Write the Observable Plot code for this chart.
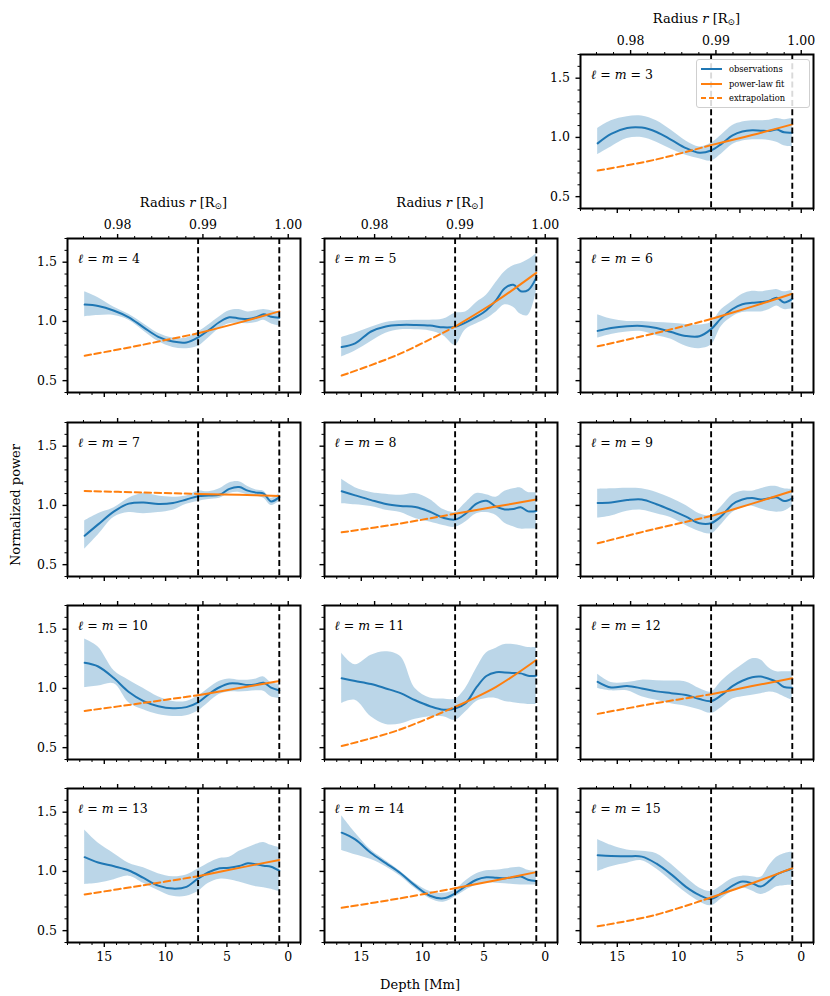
<!DOCTYPE html>
<html><head><meta charset="utf-8">
<script src="https://cdn.jsdelivr.net/npm/d3@7"></script>
<script src="https://cdn.jsdelivr.net/npm/@observablehq/plot@0.6"></script>
<style>
body{margin:0;background:#fff;}
#fig{position:relative;width:830px;height:996px;background:#fff;font-family:"DejaVu Serif",serif;color:#000;overflow:hidden;}
.abs{position:absolute;white-space:nowrap;line-height:1;}
.panel{position:absolute;}
.legend{position:absolute;border:1px solid #cfcfcf;border-radius:3px;background:rgba(255,255,255,0.85);font-size:8.3px;}
.legend .row{position:absolute;left:4px;height:12px;display:flex;align-items:center;white-space:nowrap;}
.legend svg{margin-right:7px;}
</style></head><body><div id="fig"></div>
<script>
// ---------- data ----------
const RSUN = 695.7; // Mm
const DEPTH = [16.6, 15.5, 14.2, 13, 11.8, 10.6, 9.4, 8.3, 7.35, 6.5, 5.6, 4.8, 4.0, 3.3, 2.6, 2.0, 1.4, 0.73];
const FIT_DEPTH = [7.35, 4, 0.73];
const EXT_DEPTH = [16.6, 12, 7.35];
const BOUNDARIES = [7.35, 0.73];
const X_MAJOR = [15, 10, 5, 0];
const X_MINOR = [18, 17, 16, 14, 13, 12, 11, 9, 8, 7, 6, 4, 3, 2, 1, -1];
const R_MAJOR = [0.98, 0.99, 1.00];
const R_MINOR = [0.976, 0.978, 0.982, 0.984, 0.986, 0.988, 0.992, 0.994, 0.996, 0.998];
const Y_MAJOR = [0.5, 1.0, 1.5];
const Y_MINOR = [0.4, 0.6, 0.7, 0.8, 0.9, 1.1, 1.2, 1.3, 1.4, 1.6, 1.7];
const DEGREES = [3, 4, 5, 6, 7, 8, 9, 10, 11, 12, 13, 14, 15];
const LEGEND_LABELS = ["observations", "power-law fit", "extrapolation"];

const obs3 = [0.95, 1.03, 1.08, 1.083, 1.046, 0.98, 0.91, 0.87, 0.89, 0.946, 1.017, 1.05, 1.06, 1.057, 1.054, 1.066, 1.043, 1.04];
const hi3  = [1.075, 1.14, 1.175, 1.18, 1.14, 1.06, 0.97, 0.92, 0.95, 1.02, 1.10, 1.13, 1.14, 1.14, 1.145, 1.16, 1.15, 1.16];
const lo3  = [0.855, 0.92, 0.99, 1.0, 0.96, 0.90, 0.85, 0.82, 0.80, 0.86, 0.94, 0.97, 0.98, 0.98, 0.975, 0.96, 0.93, 0.92];
const fit3 = [0.935, 1.02, 1.11];  const ext3 = [0.72, 0.81, 0.935];

const obs4 = [1.142, 1.13, 1.09, 1.035, 0.95, 0.87, 0.83, 0.823, 0.865, 0.925, 0.995, 1.035, 1.025, 1.02, 1.035, 1.06, 1.04, 1.03];
const hi4  = [1.25, 1.2, 1.12, 1.06, 0.98, 0.9, 0.86, 0.86, 0.91, 0.97, 1.04, 1.09, 1.1, 1.08, 1.09, 1.1, 1.09, 1.08];
const lo4  = [1.04, 1.05, 1.05, 1.01, 0.92, 0.83, 0.78, 0.77, 0.79, 0.86, 0.94, 0.98, 0.985, 0.98, 0.99, 1.01, 0.98, 0.96];
const fit4 = [0.90, 0.99, 1.085];  const ext4 = [0.71, 0.80, 0.90];

const obs5 = [0.784, 0.815, 0.915, 0.958, 0.97, 0.97, 0.965, 0.95, 0.955, 0.99, 1.04, 1.095, 1.18, 1.28, 1.31, 1.255, 1.264, 1.37];
const hi5  = [0.864, 0.9, 0.95, 0.99, 1.005, 1.01, 1.01, 1.02, 1.07, 1.08, 1.16, 1.22, 1.33, 1.42, 1.47, 1.49, 1.52, 1.57];
const lo5  = [0.70, 0.75, 0.83, 0.9, 0.93, 0.93, 0.92, 0.88, 0.80, 0.93, 0.98, 1.02, 1.08, 1.14, 1.12, 1.06, 1.05, 1.25];
const fit5 = [0.957, 1.17, 1.41];  const ext5 = [0.543, 0.72, 0.957];

const obs6 = [0.92, 0.945, 0.96, 0.962, 0.945, 0.91, 0.877, 0.875, 0.935, 1.03, 1.105, 1.145, 1.158, 1.163, 1.175, 1.2, 1.16, 1.19];
const hi6  = [1.057, 1.02, 1.0, 1.0, 0.99, 0.985, 0.975, 0.97, 0.99, 1.1, 1.17, 1.23, 1.255, 1.25, 1.26, 1.27, 1.25, 1.26];
const lo6  = [0.86, 0.89, 0.91, 0.915, 0.88, 0.85, 0.79, 0.77, 0.80, 0.96, 1.04, 1.075, 1.08, 1.08, 1.1, 1.13, 1.1, 1.11];
const fit6 = [1.02, 1.125, 1.233];  const ext6 = [0.79, 0.898, 1.02];

const obs7 = [0.744, 0.84, 0.95, 1.015, 1.025, 1.012, 1.02, 1.05, 1.078, 1.083, 1.09, 1.14, 1.155, 1.125, 1.108, 1.1, 1.034, 1.07];
const hi7  = [0.87, 0.93, 0.98, 1.06, 1.1, 1.08, 1.07, 1.08, 1.12, 1.115, 1.14, 1.19, 1.2, 1.16, 1.13, 1.12, 1.06, 1.1];
const lo7  = [0.63, 0.75, 0.9, 0.94, 0.93, 0.94, 0.96, 1.01, 1.034, 1.05, 1.06, 1.1, 1.11, 1.09, 1.08, 1.06, 1.0, 1.034];
const fit7 = [1.097, 1.09, 1.08];  const ext7 = [1.122, 1.11, 1.097];

const obs8 = [1.12, 1.085, 1.045, 1.012, 0.995, 0.986, 0.947, 0.895, 0.88, 0.93, 1.015, 1.04, 0.99, 0.966, 0.97, 0.985, 0.95, 0.952];
const hi8  = [1.22, 1.15, 1.11, 1.095, 1.085, 1.1, 1.05, 0.965, 0.943, 1.02, 1.1, 1.09, 1.07, 1.12, 1.14, 1.148, 1.11, 1.108];
const lo8  = [1.014, 1.005, 0.99, 0.96, 0.94, 0.89, 0.86, 0.83, 0.815, 0.86, 0.93, 0.94, 0.915, 0.85, 0.82, 0.8, 0.8, 0.8];
const fit8 = [0.93, 0.99, 1.05];  const ext8 = [0.773, 0.844, 0.93];

const obs9 = [1.02, 1.025, 1.045, 1.05, 1.01, 0.96, 0.905, 0.85, 0.85, 0.91, 1.01, 1.05, 1.062, 1.05, 1.06, 1.068, 1.037, 1.06];
const hi9  = [1.136, 1.14, 1.145, 1.14, 1.11, 1.06, 1.0, 0.93, 0.915, 0.99, 1.09, 1.12, 1.12, 1.14, 1.16, 1.16, 1.14, 1.136];
const lo9  = [0.892, 0.91, 0.95, 0.96, 0.93, 0.895, 0.83, 0.78, 0.76, 0.84, 0.94, 0.98, 0.994, 0.97, 0.95, 0.943, 0.95, 0.994];
const fit9 = [0.91, 1.015, 1.122];  const ext9 = [0.68, 0.80, 0.91];

const obs10 = [1.216, 1.185, 1.085, 0.97, 0.893, 0.85, 0.833, 0.842, 0.882, 0.95, 1.01, 1.042, 1.04, 1.028, 1.035, 1.048, 1.006, 0.983];
const hi10  = [1.418, 1.35, 1.15, 1.07, 1.0, 0.93, 0.89, 0.89, 0.935, 1.0, 1.06, 1.08, 1.07, 1.07, 1.08, 1.097, 1.05, 1.034];
const lo10  = [1.006, 1.02, 1.04, 0.88, 0.82, 0.78, 0.764, 0.77, 0.81, 0.88, 0.95, 0.97, 0.97, 0.975, 0.98, 0.977, 0.93, 0.915];
const fit10 = [0.943, 1.003, 1.0625];  const ext10 = [0.81, 0.875, 0.943];

const obs11 = [1.085, 1.063, 1.037, 1.0, 0.96, 0.9, 0.85, 0.82, 0.83, 0.875, 1.01, 1.105, 1.136, 1.135, 1.13, 1.127, 1.107, 1.107];
const hi11  = [1.297, 1.2, 1.28, 1.31, 1.27, 1.0, 0.92, 0.91, 0.91, 1.0, 1.17, 1.3, 1.34, 1.37, 1.37, 1.36, 1.345, 1.345];
const lo11  = [0.873, 0.9, 0.76, 0.695, 0.70, 0.74, 0.76, 0.76, 0.73, 0.8, 0.89, 0.915, 0.915, 0.89, 0.88, 0.87, 0.865, 0.864];
const fit11 = [0.845, 1.014, 1.24];  const ext11 = [0.514, 0.647, 0.845];

const obs12 = [1.056, 1.008, 1.02, 1.0, 0.975, 0.96, 0.945, 0.91, 0.893, 0.943, 1.02, 1.065, 1.095, 1.1, 1.08, 1.055, 1.012, 1.006];
const hi12  = [1.119, 1.05, 1.05, 1.07, 1.065, 1.062, 1.055, 1.0, 0.97, 1.06, 1.14, 1.2, 1.25, 1.24, 1.17, 1.14, 1.14, 1.14];
const lo12  = [1.0, 0.98, 0.98, 0.93, 0.9, 0.87, 0.85, 0.82, 0.79, 0.84, 0.91, 0.93, 0.943, 0.955, 0.97, 0.96, 0.93, 0.9];
const fit12 = [0.95, 1.02, 1.085];  const ext12 = [0.785, 0.873, 0.95];

const obs13 = [1.12, 1.075, 1.043, 1.008, 0.945, 0.88, 0.855, 0.87, 0.94, 0.993, 1.027, 1.03, 1.045, 1.068, 1.06, 1.048, 1.04, 1.006];
const hi13  = [1.35, 1.24, 1.15, 1.07, 1.03, 0.98, 0.955, 0.97, 1.02, 1.07, 1.11, 1.12, 1.17, 1.2, 1.23, 1.245, 1.22, 1.2];
const lo13  = [0.89, 0.9, 0.93, 0.96, 0.9, 0.84, 0.79, 0.79, 0.83, 0.9, 0.934, 0.93, 0.91, 0.89, 0.87, 0.863, 0.85, 0.83];
const fit13 = [0.96, 1.03, 1.097];  const ext13 = [0.806, 0.88, 0.96];

const obs14 = [1.327, 1.27, 1.155, 1.07, 0.985, 0.88, 0.795, 0.773, 0.815, 0.875, 0.93, 0.95, 0.947, 0.943, 0.95, 0.957, 0.93, 0.92];
const hi14  = [1.47, 1.327, 1.18, 1.09, 1.0, 0.9, 0.83, 0.815, 0.844, 0.92, 0.98, 1.006, 1.01, 1.02, 1.03, 1.034, 1.01, 1.0];
const lo14  = [1.176, 1.14, 1.1, 1.04, 0.96, 0.855, 0.77, 0.74, 0.787, 0.84, 0.885, 0.9, 0.9, 0.895, 0.89, 0.886, 0.886, 0.886];
const fit14 = [0.858, 0.925, 0.994];  const ext14 = [0.693, 0.77, 0.858];

const obs15 = [1.136, 1.13, 1.128, 1.125, 1.065, 0.975, 0.87, 0.8, 0.767, 0.815, 0.88, 0.915, 0.9, 0.872, 0.92, 0.975, 1.0, 1.023];
const hi15  = [1.27, 1.22, 1.18, 1.17, 1.15, 1.06, 0.95, 0.86, 0.83, 0.88, 0.94, 0.96, 0.955, 0.95, 1.05, 1.12, 1.15, 1.165];
const lo15  = [1.0, 1.04, 1.07, 1.09, 1.02, 0.92, 0.82, 0.745, 0.71, 0.77, 0.83, 0.86, 0.835, 0.805, 0.83, 0.87, 0.88, 0.886];
const fit15 = [0.78, 0.9, 1.028];  const ext15 = [0.537, 0.63, 0.78];

// ---------- layout ----------
const SERIES = {
  3:{obs:obs3,hi:hi3,lo:lo3,fit:fit3,ext:ext3}, 4:{obs:obs4,hi:hi4,lo:lo4,fit:fit4,ext:ext4},
  5:{obs:obs5,hi:hi5,lo:lo5,fit:fit5,ext:ext5}, 6:{obs:obs6,hi:hi6,lo:lo6,fit:fit6,ext:ext6},
  7:{obs:obs7,hi:hi7,lo:lo7,fit:fit7,ext:ext7}, 8:{obs:obs8,hi:hi8,lo:lo8,fit:fit8,ext:ext8},
  9:{obs:obs9,hi:hi9,lo:lo9,fit:fit9,ext:ext9}, 10:{obs:obs10,hi:hi10,lo:lo10,fit:fit10,ext:ext10},
  11:{obs:obs11,hi:hi11,lo:lo11,fit:fit11,ext:ext11}, 12:{obs:obs12,hi:hi12,lo:lo12,fit:fit12,ext:ext12},
  13:{obs:obs13,hi:hi13,lo:lo13,fit:fit13,ext:ext13}, 14:{obs:obs14,hi:hi14,lo:lo14,fit:fit14,ext:ext14},
  15:{obs:obs15,hi:hi15,lo:lo15,fit:fit15,ext:ext15}
};
const BLUE = "#1f77b4", ORANGE = "#ff7f0e";
const COL_LEFT = [67, 323.5, 580];
const ROW_TOP = [53.5, 238, 421.5, 604.5, 788];
const W = 233, H = 154;
const mL = 50, mR = 12, mT = 45, mB = 32;
const fig = document.getElementById("fig");
const blank = () => "";

function addText(html, x, y, css) {
  const d = document.createElement("div");
  d.className = "abs";
  d.innerHTML = html;
  d.style.left = x + "px"; d.style.top = y + "px";
  Object.assign(d.style, css || {});
  fig.appendChild(d);
  return d;
}

DEGREES.forEach(l => {
  const row = l === 3 ? 0 : Math.floor((l - 4) / 3) + 1;
  const col = l === 3 ? 2 : (l - 4) % 3;
  const S = SERIES[l];
  const topLabels = (l === 3 || l === 4 || l === 5);
  const bottomLabels = row === 4;
  const leftLabels = col === 0 || l === 3;
  const band = DEPTH.map((d, i) => ({d, lo: S.lo[i], hi: S.hi[i], obs: S.obs[i]}));
  const fit = FIT_DEPTH.map((d, i) => ({d, v: S.fit[i]}));
  const ext = EXT_DEPTH.map((d, i) => ({d, v: S.ext[i]}));
  const svg = Plot.plot({
    width: W + mL + mR, height: H + mT + mB,
    marginLeft: mL, marginRight: mR, marginTop: mT, marginBottom: mB,
    x: {domain: [18, -1]},
    y: {domain: [0.4, 1.7]},
    style: {background: "transparent", overflow: "visible", fontFamily: "DejaVu Serif, serif", fontSize: "12.5px", color: "black"},
    marks: [
      Plot.areaY(band, {x: "d", y1: "lo", y2: "hi", fill: BLUE, fillOpacity: 0.3, curve: "catmull-rom"}),
      Plot.line(band, {x: "d", y: "obs", stroke: BLUE, strokeWidth: 2, curve: "catmull-rom"}),
      Plot.line(fit, {x: "d", y: "v", stroke: ORANGE, strokeWidth: 2, curve: "catmull-rom"}),
      Plot.line(ext, {x: "d", y: "v", stroke: ORANGE, strokeWidth: 2, strokeDasharray: "6.5,3.5", curve: "catmull-rom"}),
      Plot.ruleX(BOUNDARIES, {stroke: "black", strokeWidth: 1.9, strokeDasharray: "6,3.2"}),
      Plot.axisX(X_MINOR, {anchor: "bottom", tickSize: 3, tickFormat: blank, label: null, strokeWidth: 1}),
      Plot.axisX(X_MAJOR, {anchor: "bottom", tickSize: 5, tickPadding: 5, tickFormat: bottomLabels ? (d => String(d)) : blank, label: null, strokeWidth: 1.4}),
      Plot.axisX(R_MINOR.map(r => (1 - r) * RSUN), {anchor: "top", tickSize: 3, tickFormat: blank, label: null, strokeWidth: 1}),
      Plot.axisX(R_MAJOR.map(r => (1 - r) * RSUN), {anchor: "top", tickSize: 5, tickPadding: 5, tickFormat: topLabels ? (d => (1 - d / RSUN).toFixed(2)) : blank, label: null, strokeWidth: 1.4}),
      Plot.axisY(Y_MINOR, {anchor: "left", tickSize: 2.5, tickFormat: blank, label: null, strokeWidth: 1}),
      Plot.axisY(Y_MAJOR, {anchor: "left", tickSize: 4.5, tickPadding: 6, tickFormat: leftLabels ? (d => d.toFixed(1)) : blank, label: null, strokeWidth: 1.4}),
      Plot.frame({stroke: "black", strokeWidth: 2})
    ]
  });
  const wrap = document.createElement("div");
  wrap.className = "panel";
  wrap.style.left = (COL_LEFT[col] - mL) + "px";
  wrap.style.top = (ROW_TOP[row] - mT) + "px";
  wrap.appendChild(svg);
  fig.appendChild(wrap);
  addText(`<i>ℓ</i> = <i>m</i> = ${l}`, COL_LEFT[col] + 11, ROW_TOP[row] + 15, {fontSize: "12.5px"});
  if (topLabels) {
    addText(`Radius <i>r</i> [R<sub style="font-size:9px;vertical-align:-2px">⊙</sub>]`, COL_LEFT[col] + W / 2, ROW_TOP[row] - 35, {fontSize: "13px", transform: "translate(-50%,-50%)"});
  }
});

// legend inside the l=m=3 panel
const lg = document.createElement("div");
lg.className = "legend";
Object.assign(lg.style, {left: "696px", top: "59px", width: "112px", height: "47px"});
const styles = [{c: BLUE, dash: null}, {c: ORANGE, dash: null}, {c: ORANGE, dash: "5,3"}];
LEGEND_LABELS.forEach((lab, i) => {
  const r = document.createElement("div");
  r.className = "row";
  r.style.top = (3 + i * 14.5) + "px";
  r.innerHTML = `<svg width="21" height="8"><line x1="0" y1="4" x2="21" y2="4" stroke="${styles[i].c}" stroke-width="2" ${styles[i].dash ? `stroke-dasharray="${styles[i].dash}"` : ""}/></svg>${lab}`;
  lg.appendChild(r);
});
fig.appendChild(lg);

// shared axis labels
addText("Normalized power", 15, 505, {fontSize: "13px", transform: "translate(-50%,-50%) rotate(-90deg)"});
addText("Depth [Mm]", 420, 984, {fontSize: "13px", transform: "translate(-50%,-50%)"});
</script></body></html>
